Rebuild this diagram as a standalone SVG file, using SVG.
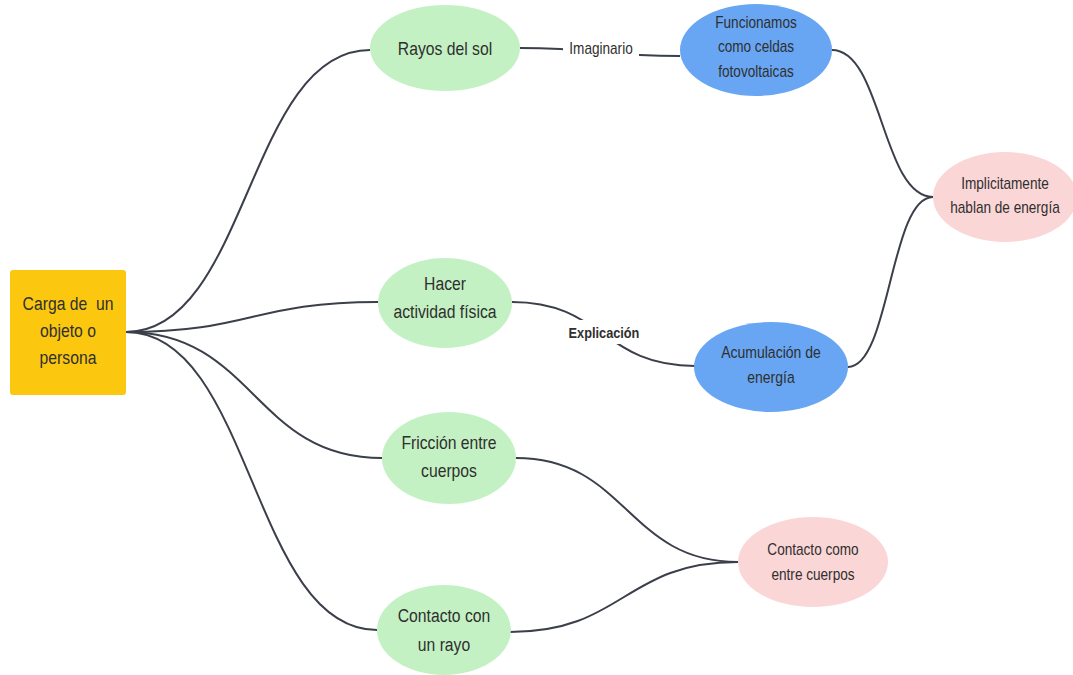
<svg xmlns="http://www.w3.org/2000/svg" width="1073" height="675" viewBox="0 0 1073 675">
<style>
.t{font-family:"Liberation Sans",Arial,sans-serif;fill:#2f2f2f;text-anchor:middle}
.c{fill:none;stroke:#3b3f4a;stroke-width:2}
.g{fill:#c4f1c3}
.b{fill:#68a6f3}
.p{fill:#fbd6d6}
</style>
<rect width="1073" height="675" fill="#fff"/>
<g id="connectors">
<path class="c" d="M126,332 C248,332 248,50 370,50"/>
<path class="c" d="M126,332 C252,332 252,302 378,302"/>
<path class="c" d="M126,332 C254,332 254,458 382,458"/>
<path class="c" d="M126,332 C252,332 252,630 377,630"/>
<path class="c" d="M520,48 C600,48 600,56 680,56"/>
<path class="c" d="M832,50 C882,50 882,197 933,197"/>
<path class="c" d="M848,367 C890,367 890,197 933,197"/>
<path class="c" d="M512,302 C603,302 603,366 695,366"/>
<path class="c" d="M516,458 C627,458 627,562 738,562"/>
<path class="c" d="M510,632 C624,632 624,562 738,562"/>
<rect x="563" y="36" width="76" height="24" fill="#fff"/>
<g transform="translate(601 0) scale(0.85 1)"><text class="t" x="0" y="54" font-size="16">Imaginario</text></g>
<rect x="563" y="320" width="82" height="24" fill="#fff"/>
<g transform="translate(604 0) scale(0.85 1)"><text class="t" x="0" y="338" font-size="15" font-weight="bold">Explicación</text></g>
</g>
<g id="root">
<rect x="10" y="270" width="116" height="125" rx="3" fill="#fbc80f"/>
<g transform="translate(68 0) scale(0.85 1)"><text class="t" font-size="18.5" xml:space="preserve"><tspan x="0" y="310">Carga de  un</tspan><tspan x="0" y="337">objeto o</tspan><tspan x="0" y="364">persona</tspan></text></g>
</g>
<g id="rayos">
<ellipse class="g" cx="445" cy="48" rx="75" ry="43"/>
<g transform="translate(445 0) scale(0.85 1)"><text class="t" x="0" y="55" font-size="18.5">Rayos del sol</text></g>
</g>
<g id="funcionamos">
<ellipse class="b" cx="756" cy="50" rx="76" ry="46"/>
<g transform="translate(756 0) scale(0.85 1)"><text class="t" font-size="16"><tspan x="0" y="28">Funcionamos</tspan><tspan x="0" y="52">como celdas</tspan><tspan x="0" y="77">fotovoltaicas</tspan></text></g>
</g>
<g id="implicitamente">
<ellipse class="p" cx="1005" cy="197" rx="72" ry="45"/>
<g transform="translate(1005 0) scale(0.85 1)"><text class="t" font-size="16"><tspan x="0" y="189">Implicitamente</tspan><tspan x="0" y="213">hablan de energía</tspan></text></g>
</g>
<g id="hacer">
<ellipse class="g" cx="445" cy="303" rx="67" ry="45"/>
<g transform="translate(445 0) scale(0.85 1)"><text class="t" font-size="18.5"><tspan x="0" y="290">Hacer</tspan><tspan x="0" y="318">actividad física</tspan></text></g>
</g>
<g id="acumulacion">
<ellipse class="b" cx="771" cy="367" rx="77" ry="45"/>
<g transform="translate(771 0) scale(0.85 1)"><text class="t" font-size="16.5"><tspan x="0" y="358">Acumulación de</tspan><tspan x="0" y="383">energía</tspan></text></g>
</g>
<g id="friccion">
<ellipse class="g" cx="449" cy="458" rx="67" ry="46"/>
<g transform="translate(449 0) scale(0.85 1)"><text class="t" font-size="18.5"><tspan x="0" y="449">Fricción entre</tspan><tspan x="0" y="477">cuerpos</tspan></text></g>
</g>
<g id="contacto-como">
<ellipse class="p" cx="813" cy="562" rx="75" ry="45"/>
<g transform="translate(813 0) scale(0.85 1)"><text class="t" font-size="16"><tspan x="0" y="555">Contacto como</tspan><tspan x="0" y="580">entre cuerpos</tspan></text></g>
</g>
<g id="contacto-rayo">
<ellipse class="g" cx="444" cy="630" rx="67" ry="45"/>
<g transform="translate(444 0) scale(0.85 1)"><text class="t" font-size="18.5"><tspan x="0" y="622">Contacto con</tspan><tspan x="0" y="651">un rayo</tspan></text></g>
</g>
</svg>
